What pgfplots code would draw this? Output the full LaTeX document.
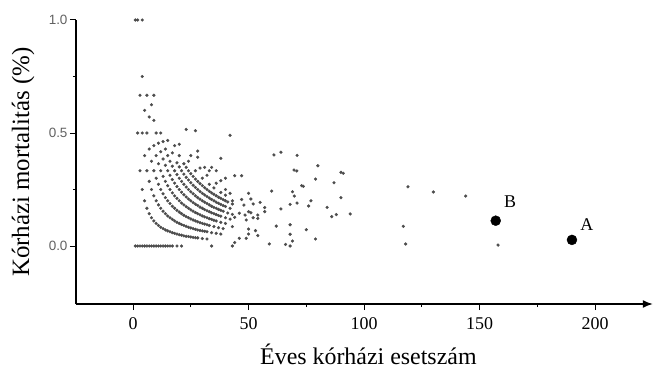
\documentclass[border=0pt]{standalone}
\usepackage{fontspec}
\setmainfont{Liberation Serif}
\newfontfamily\ysans{Liberation Sans}
\usepackage{pgfplots}
\pgfplotsset{compat=1.18}
\usetikzlibrary{arrows.meta}
\begin{document}
\begin{tikzpicture}
\path[use as bounding box] (-76bp,-68bp) rectangle (578bp,304bp);
\begin{axis}[
  scale only axis, width=576.8bp, height=284bp,
  xmin=-24.7, xmax=225, ymin=-0.2566, ymax=1.0,
  axis lines=left,
  x axis line style={line width=1.5bp, -{Latex[length=10bp,width=8bp]}},
  y axis line style={line width=1.5bp, -},
  xtick={0,50,100,150,200},
  minor xtick={25,75,125,175},
  ytick={0,0.5,1},
  yticklabels={0.0,0.5,1.0},
  minor ytick={0.25,0.75},
  tick align=outside,
  major tick length=6bp, minor tick length=3bp,
  every tick/.style={black, line width=1bp},
  /pgf/number format/assume math mode=true,
  xticklabel style={font=\fontsize{18}{18}\selectfont, yshift=-4bp},
  yticklabel style={font=\ysans\fontsize{13.5}{13.5}\selectfont, text=black!62, xshift=1bp},
  xlabel={Éves kórházi esetszám},
  ylabel={Kórházi mortalitás (\%)},
  every axis x label/.style={at={([xshift=4bp,yshift=-50bp]axis description cs:0.5,0)}, anchor=center, font=\fontsize{24}{24}\selectfont},
  every axis y label/.style={at={([xshift=-53bp]axis description cs:0,0.5)}, anchor=center, rotate=90, font=\fontsize{25}{25}\selectfont},
  clip=false,
]
% zero mortality
\addplot[only marks, mark=*, mark size=1.4bp, black!70] coordinates {
(1,0)(2,0)(3,0)(4,0)(5,0)(6,0)(7,0)(8,0)(9,0)(10,0)(11,0)(12,0)(13,0)(14,0)(15,0)(16,0)(17,0)(19,0)(21,0)(34,0)(43,0)
};
% k/n structure
\addplot[only marks, mark=*, mark size=1.4bp, black!70] coordinates {
(1,1)(2,0.5)(3,0.333)(4,0.25)(5,0.2)(6,0.167)(7,0.143)(8,0.125)(9,0.111)(10,0.1)(11,0.091)(12,0.083)(13,0.077)(14,0.071)(15,0.067)(16,0.063)(17,0.059)(18,0.056)(19,0.053)(20,0.05)(21,0.048)(22,0.045)(23,0.043)(24,0.042)(25,0.04)(26,0.038)(27,0.037)(28,0.036)(30,0.033)(32,0.031)
(2,1)(3,0.667)(4,0.5)(5,0.4)(6,0.333)(7,0.286)(8,0.25)(9,0.222)(10,0.2)(11,0.182)(12,0.167)(13,0.154)(14,0.143)(15,0.133)(16,0.125)(17,0.118)(18,0.111)(19,0.105)(20,0.1)(21,0.095)(22,0.091)(23,0.087)(24,0.083)(25,0.08)(26,0.077)(27,0.074)(28,0.071)(29,0.069)(30,0.067)(31,0.065)(32,0.063)(34,0.059)(36,0.056)(38,0.053)
(4,0.75)(5,0.6)(6,0.5)(7,0.429)(8,0.375)(9,0.333)(10,0.3)(11,0.273)(12,0.25)(13,0.231)(14,0.214)(15,0.2)(16,0.188)(17,0.176)(18,0.167)(19,0.158)(20,0.15)(21,0.143)(22,0.136)(23,0.13)(24,0.125)(25,0.12)(26,0.115)(27,0.111)(28,0.107)(29,0.103)(30,0.1)(31,0.097)(32,0.094)(33,0.091)(35,0.086)(37,0.081)(39,0.077)
(4,1)(6,0.667)(7,0.571)(9,0.444)(10,0.4)(11,0.364)(12,0.333)(13,0.308)(14,0.286)(15,0.267)(16,0.25)(17,0.235)(18,0.222)(19,0.211)(20,0.2)(21,0.19)(22,0.182)(23,0.174)(24,0.167)(25,0.16)(26,0.154)(27,0.148)(28,0.143)(29,0.138)(30,0.133)(31,0.129)(32,0.125)(33,0.121)(34,0.118)(35,0.114)(36,0.111)(38,0.105)(40,0.1)
(8,0.625)(9,0.556)(10,0.5)(11,0.455)(12,0.417)(13,0.385)(14,0.357)(15,0.333)(16,0.313)(17,0.294)(18,0.278)(19,0.263)(20,0.25)(21,0.238)(22,0.227)(23,0.217)(24,0.208)(25,0.2)(26,0.192)(27,0.185)(28,0.179)(29,0.172)(30,0.167)(31,0.161)(32,0.156)(33,0.152)(34,0.147)(35,0.143)(36,0.139)(37,0.135)(38,0.132)(40,0.125)(42,0.119)
(9,0.667)(12,0.5)(13,0.462)(14,0.429)(15,0.4)(16,0.375)(17,0.353)(18,0.333)(19,0.316)(20,0.3)(21,0.286)(22,0.273)(23,0.261)(24,0.25)(25,0.24)(26,0.231)(27,0.222)(28,0.214)(29,0.207)(30,0.2)(31,0.194)(32,0.188)(33,0.182)(34,0.176)(35,0.171)(36,0.167)(37,0.162)(38,0.158)(39,0.154)(41,0.146)(43,0.14)
(15,0.467)(17,0.412)(19,0.368)(20,0.35)(21,0.333)(22,0.318)(23,0.304)(24,0.292)(25,0.28)(26,0.269)(27,0.259)(28,0.25)(29,0.241)(30,0.233)(31,0.226)(32,0.219)(33,0.212)(34,0.206)(35,0.2)(36,0.194)(37,0.189)(38,0.184)(39,0.179)(40,0.175)(42,0.167)
(18,0.444)(20,0.4)(22,0.364)(23,0.348)(24,0.333)(25,0.32)(26,0.308)(27,0.296)(28,0.286)(29,0.276)(30,0.267)(31,0.258)(32,0.25)(33,0.242)(34,0.235)(35,0.229)(36,0.222)(37,0.216)(38,0.211)(39,0.205)(40,0.2)(41,0.195)(43,0.186)
(20,0.45)(24,0.375)(27,0.333)(30,0.3)(33,0.273)(35,0.257)(38,0.237)(40,0.225)
(25,0.4)(29,0.345)(32,0.313)(36,0.278)(40,0.25)
(28,0.393)(33,0.333)(38,0.289)
(36,0.333)(40,0.3)
(23,0.516)(27,0.51)(28,0.42)(38,0.388)(31,0.348)(34,0.348)
};
% scattered larger hospitals
\addplot[only marks, mark=*, mark size=1.4bp, black!70] coordinates {
(42,0.49)(61,0.403)(64,0.415)(71,0.401)(80,0.355)(69.7,0.336)(70.9,0.332)(90,0.326)(91,0.322)(79,0.296)(87,0.28)(73,0.267)(73.7,0.264)(60,0.243)(69,0.24)(69.8,0.221)(90,0.214)(77,0.2)(76,0.177)(71,0.19)(68,0.184)(64,0.164)(84,0.171)(86,0.13)(88,0.139)(94,0.142)(62,0.088)(68,0.094)(75,0.072)(79,0.031)(68,0.052)(69,0.022)(68,0)(66,0.007)(59,0.009)(119,0.262)(130,0.239)(144,0.221)(117,0.087)(118,0.009)(158,0.004)
(44,0.311)(47,0.311)(42,0.233)(43,0.2)(47,0.206)(50,0.233)(51,0.208)(48,0.181)(52,0.186)(55,0.193)(57,0.17)(57,0.152)(46,0.145)(48.5,0.137)(50,0.152)(51,0.147)(52,0.125)(54,0.137)(54,0.122)(44,0.127)(49,0.115)(43,0.086)(50,0.075)(53,0.068)(54,0.046)(50,0.053)(46,0.034)(49,0.034)(44,0.015)
};
% highlighted hospitals
\addplot[only marks, mark=*, mark size=5bp, black] coordinates {(157,0.112)(190,0.027)};
\node[font=\fontsize{18}{18}\selectfont] at (axis cs:163.2,0.195) {B};
\node[font=\fontsize{18}{18}\selectfont] at (axis cs:196.5,0.097) {A};
\end{axis}
\end{tikzpicture}
\end{document}
